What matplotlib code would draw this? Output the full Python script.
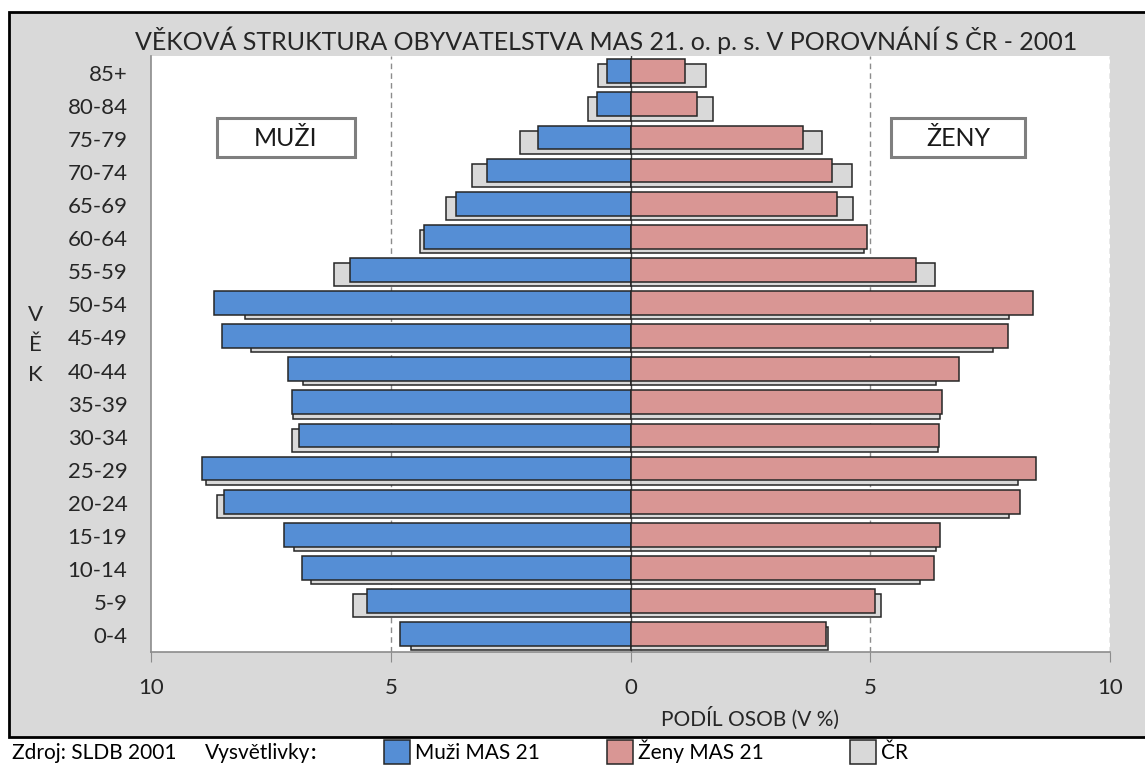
import numpy as np
import matplotlib
matplotlib.use("Agg")
import matplotlib.pyplot as plt
from matplotlib.patches import Rectangle

plt.rcParams['font.family'] = ['Lato', 'DejaVu Sans']

W, H = 1145, 767

# age groups, bottom to top
ages = ['0-4', '5-9', '10-14', '15-19', '20-24', '25-29', '30-34', '35-39', '40-44',
        '45-49', '50-54', '55-59', '60-64', '65-69', '70-74', '75-79', '80-84', '85+']
# shares in %, same order as ages
men_mas = [4.80, 5.49, 6.85, 7.22, 8.48, 8.93, 6.92, 7.05, 7.14,
           8.52, 8.68, 5.84, 4.30, 3.64, 2.99, 1.92, 0.70, 0.48]
men_cr = [4.58, 5.79, 6.66, 7.01, 8.63, 8.85, 7.06, 7.04, 6.84,
          7.92, 8.05, 6.18, 4.39, 3.84, 3.31, 2.31, 0.88, 0.67]
women_mas = [4.08, 5.10, 6.33, 6.46, 8.13, 8.45, 6.44, 6.49, 6.86,
             7.88, 8.39, 5.95, 4.94, 4.31, 4.21, 3.60, 1.39, 1.13]
women_cr = [4.12, 5.22, 6.03, 6.38, 7.89, 8.09, 6.41, 6.46, 6.38,
            7.56, 7.89, 6.36, 4.86, 4.64, 4.61, 3.99, 1.72, 1.58]

xticks = [-10, -5, 0, 5, 10]
legend_labels = ['Muži MAS 21', 'Ženy MAS 21', 'ČR']

blue = '#558ED5'
pink = '#D99694'
grey = '#D9D9D9'
edge = '#262626'

def fx(x):
    return x / W

def fy(y):
    return 1 - y / H

fig = plt.figure(figsize=(W / 100, H / 100), dpi=100, facecolor='white')

# grey framed panel (behind the axes)
fig.patches.append(Rectangle((fx(9), fy(737)), fx(1160) - fx(9), fy(12) - fy(737),
                             transform=fig.transFigure, facecolor=grey,
                             edgecolor='black', linewidth=2, zorder=-5))

ax = fig.add_axes([fx(151), fy(652), fx(1110) - fx(151), fy(56) - fy(652)])
ax.set_facecolor('white')

y = np.arange(len(ages))
ax.barh(y - 0.1, -np.array(men_cr), height=0.7, color=grey, edgecolor=edge, linewidth=1.1, zorder=2)
ax.barh(y - 0.1, women_cr, height=0.7, color=grey, edgecolor=edge, linewidth=1.1, zorder=2)
ax.barh(y + 0.04, -np.array(men_mas), height=0.72, color=blue, edgecolor=edge, linewidth=1.1, zorder=3)
ax.barh(y + 0.04, women_mas, height=0.72, color=pink, edgecolor=edge, linewidth=1.1, zorder=3)

for v in (-5, 5, 10):
    ax.axvline(v, color='#8c8c8c', linestyle=(0, (4, 3)), linewidth=1, zorder=1)
ax.axvline(0, color='#404040', linewidth=1, zorder=1)

ax.set_xlim(-10, 10)
ax.set_ylim(-0.5, len(ages) - 0.5)
ax.set_xticks(xticks)
ax.set_xticklabels([str(abs(t)) for t in xticks], fontsize=16, color='#262626')
ax.set_yticks(y)
ax.set_yticklabels(ages, fontsize=16, color='#262626')
ax.tick_params(axis='x', direction='out', length=7, color='#8c8c8c', pad=12)
ax.tick_params(axis='y', length=0, pad=17)
for s in ('top', 'right'):
    ax.spines[s].set_visible(False)
for s in ('left', 'bottom'):
    ax.spines[s].set_color('#8c8c8c')
    ax.spines[s].set_linewidth(1.2)

# title and axis names
fig.text(fx(606), fy(40), 'VĚKOVÁ STRUKTURA OBYVATELSTVA MAS 21. o. p. s. V POROVNÁNÍ S ČR - 2001',
         ha='center', va='center', fontsize=18, color='#262626')
fig.text(fx(750), fy(718), 'PODÍL OSOB (V %)', ha='center', va='center', fontsize=15, color='#262626')
fig.text(fx(35), fy(345), 'V\nĚ\nK', ha='center', va='center', fontsize=16,
         color='#262626', linespacing=1.65)

# sex boxes
for x0, x1, label in ((217, 355, 'MUŽI'), (891, 1025, 'ŽENY')):
    fig.patches.append(Rectangle((fx(x0), fy(157)), fx(x1) - fx(x0), fy(118) - fy(157),
                                 transform=fig.transFigure, facecolor='white',
                                 edgecolor='#7f7f7f', linewidth=2.2, zorder=5))
    fig.text(fx((x0 + x1) / 2), fy(146), label, ha='center', va='baseline',
             fontsize=18, color='#1a1a1a', zorder=6)

# bottom legend
base = fy(759)
fig.text(fx(12), base, 'Zdroj: SLDB 2001', ha='left', va='baseline', fontsize=15)
vt = fig.text(fx(205), base, 'Vysvětlivky', ha='left', va='baseline', fontsize=15)
fig.canvas.draw()
vx = vt.get_window_extent().x1
fig.text(vx / W, base, ':', ha='left', va='baseline', fontsize=15, fontweight='bold')
for x0, col, label in ((384, blue, legend_labels[0]), (607, pink, legend_labels[1]),
                       (850, grey, legend_labels[2])):
    fig.patches.append(Rectangle((fx(x0), fy(764)), fx(26), fy(740) - fy(764),
                                 transform=fig.transFigure, facecolor=col,
                                 edgecolor=edge, linewidth=1.1))
    fig.text(fx(x0 + 31), base, label, ha='left', va='baseline', fontsize=15)

fig.savefig('out.png', dpi=100, facecolor='white')
